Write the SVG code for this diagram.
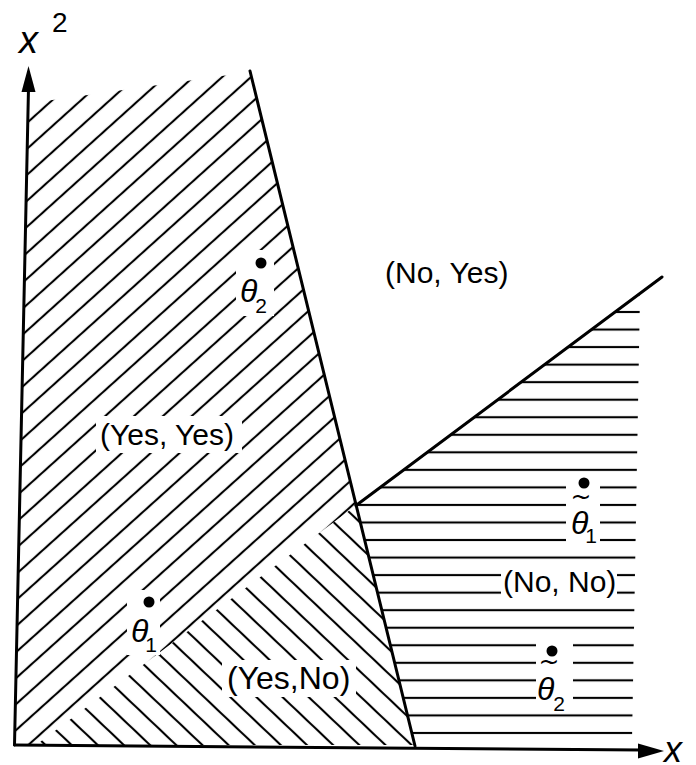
<svg xmlns="http://www.w3.org/2000/svg" width="696" height="765" viewBox="0 0 696 765">
  <style>
    .lbl { font-family: "Liberation Sans", Arial, sans-serif; font-size: 30px; fill: #000; }
    .th { font-family: "Liberation Sans", Arial, sans-serif; font-style: italic; font-size: 32px; fill: #000; }
    .sb { font-style: normal; font-size: 21px; }
    .sub { font-family: "Liberation Sans", Arial, sans-serif; font-size: 28px; fill: #000; }
    .tl { font-family: "DejaVu Sans", sans-serif; font-size: 25px; fill: #000; text-anchor: middle; }
    .ax { font-family: "Liberation Sans", Arial, sans-serif; font-style: italic; font-size: 38px; fill: #000; }
    .line { stroke: #000; stroke-width: 3; fill: none; stroke-linecap: round; }
  </style>
  <defs>
    <pattern id="hatchA" patternUnits="userSpaceOnUse" width="1000" height="19.3" patternTransform="translate(28,122) rotate(-42) translate(0,-9.65)">
      <rect x="0" y="8.6" width="1000" height="2.1" fill="#000"/>
    </pattern>
    <pattern id="hatchB" patternUnits="userSpaceOnUse" width="1000" height="18" patternTransform="translate(218,611) rotate(43.5) translate(0,-9)">
      <rect x="0" y="7.95" width="1000" height="2.1" fill="#000"/>
    </pattern>
    <pattern id="hatchH" patternUnits="userSpaceOnUse" width="1000" height="17.54" patternTransform="translate(0,303.23)">
      <rect x="0" y="7.72" width="1000" height="2.1" fill="#000"/>
    </pattern>
    <mask id="gaps" maskUnits="userSpaceOnUse" x="0" y="0" width="696" height="765">
      <rect x="0" y="0" width="696" height="765" fill="#fff"/>
      <rect x="236" y="250" width="38" height="66" fill="#000"/>
      <rect x="96" y="416" width="146" height="37" fill="#000"/>
      <rect x="127" y="590" width="33" height="65" fill="#000"/>
      <rect x="222" y="660" width="134" height="37" fill="#000"/>
      <rect x="566" y="476" width="34" height="70" fill="#000"/>
      <rect x="501" y="566" width="116" height="34" fill="#000"/>
      <rect x="536" y="638" width="37" height="68" fill="#000"/>
    </mask>
  </defs>

  <g id="regions" mask="url(#gaps)">
    <polygon id="yes-yes" points="27.7,103.5 250,72 356,505.5 36,745 14.5,745" fill="url(#hatchA)"/>
    <polygon id="yes-no" points="36,745 356,505.5 414.5,745" fill="url(#hatchB)"/>
    <polygon id="no-no" points="356,505.5 640,293.5 632,741 413.5,741" fill="url(#hatchH)"/>
  </g>

  <g id="connectors">
    <line class="line" x1="28.5" y1="88" x2="14.5" y2="745"/>
    <polygon points="28.5,66 21.5,92 35.5,92" fill="#000"/>
    <line class="line" x1="14.5" y1="745" x2="642" y2="750"/>
    <polygon points="664,751 638,743.5 638,758.5" fill="#000"/>
    <line class="line" x1="250" y1="71" x2="415" y2="746" stroke-width="2.6"/>
    <line class="line" x1="356" y1="505.5" x2="662" y2="277"/>
  </g>

  <g id="axis-x2">
    <text class="ax" x="19" y="53">x</text>
    <text class="sub" x="52" y="32">2</text>
  </g>
  <g id="axis-x">
    <text class="ax" x="664" y="762" style="font-size:36px">x</text>
  </g>

  <g id="label-no-yes"><text class="lbl" x="385" y="283">(No, Yes)</text></g>
  <g id="label-yes-yes"><text class="lbl" x="100" y="445">(Yes, Yes)</text></g>
  <g id="label-no-no"><text class="lbl" x="503" y="592">(No, No)</text></g>
  <g id="label-yes-no"><text class="lbl" x="227" y="689" style="font-size:32px">(Yes,No)</text></g>

  <g id="theta2">
    <circle cx="261" cy="263" r="5.5" fill="#000"/>
    <text class="th" x="240" y="302">θ<tspan class="sb" dx="-2" dy="11">2</tspan></text>
  </g>
  <g id="theta1">
    <circle cx="149" cy="602" r="5.5" fill="#000"/>
    <text class="th" x="131" y="642">θ<tspan class="sb" dx="-3" dy="10">1</tspan></text>
  </g>
  <g id="theta1-tilde">
    <circle cx="584" cy="483" r="5.5" fill="#000"/>
    <text class="tl" x="581" y="505">~</text>
    <text class="th" x="571" y="534">θ<tspan class="sb" dx="-3" dy="9">1</tspan></text>
  </g>
  <g id="theta2-tilde">
    <circle cx="552" cy="651" r="5.5" fill="#000"/>
    <text class="tl" x="549" y="670">~</text>
    <text class="th" x="537" y="700">θ<tspan class="sb" dx="-1" dy="11">2</tspan></text>
  </g>
</svg>
